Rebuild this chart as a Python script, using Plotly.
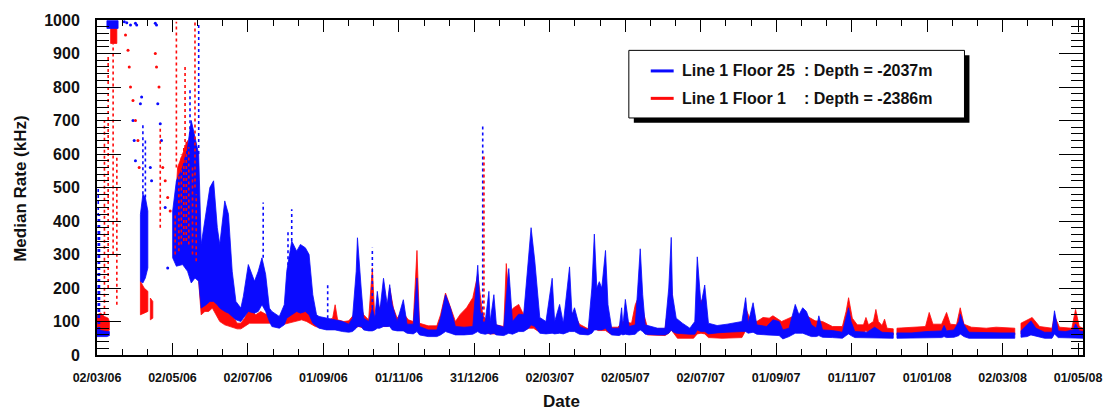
import pandas as pd
import plotly.graph_objects as go

# ---------------- data ----------------
START = "2006-03-02"          # first day of the time axis
X_RANGE_DAYS = 795            # axis end, days after START
TICK_SPAN_DAYS = 791          # 02/03/06 -> 01/05/08

x_tick_labels = ["02/03/06", "02/05/06", "02/07/06", "01/09/06", "01/11/06",
                 "31/12/06", "02/03/07", "02/05/07", "02/07/07", "01/09/07",
                 "01/11/07", "01/01/08", "02/03/08", "01/05/08"]
y_tick_values = [0, 100, 200, 300, 400, 500, 600, 700, 800, 900, 1000]

series_names = ["Line 1 Floor 25", "Line 1 Floor 1"]
series_depths = [": Depth = -2037m", ": Depth = -2386m"]

# dense band of points: (days since START, lower kHz, upper kHz); None = gap
blue_band = [
    (0, 55, 75), (4, 55, 72), (8, 55, 70), (10, 58, 70), None,
    (8, 975, 998), (17, 975, 998), None,
    (35, 220, 420), (37, 215, 480), (39, 230, 470), (41, 260, 430), None,
    (61, 290, 430), (64, 265, 520), (69, 270, 560), (73, 250, 620), (76, 215, 700),
    (79, 230, 650), (82, 220, 600), (84, 140, 330), (88, 150, 420), (91, 160, 500),
    (94, 160, 520), (97, 150, 380), (99, 140, 330), (103, 130, 460), (106, 125, 420),
    (109, 115, 250), (112, 105, 160), (116, 100, 140), (118, 110, 175), (122, 130, 270),
    (127, 125, 220), (130, 130, 250), (133, 150, 290), (136, 130, 240), (139, 100, 140),
    (141, 85, 130), (147, 80, 115), (151, 90, 150), (153, 110, 250), (157, 120, 340),
    (161, 130, 310), (164, 125, 330), (168, 130, 320), (171, 120, 300), (174, 95, 180),
    (177, 85, 120), (179, 80, 115), (185, 75, 110), (192, 75, 105), (198, 70, 100),
    (203, 68, 92), (206, 70, 110), (209, 80, 250), (210, 85, 350), (213, 85, 200),
    (215, 75, 110), (219, 72, 100), (222, 72, 140), (224, 75, 110), (226, 80, 190),
    (228, 80, 130), (231, 85, 229), (234, 85, 150), (236, 85, 210), (238, 75, 150),
    (242, 72, 100), (247, 72, 165), (250, 65, 92), (255, 63, 92), (258, 70, 230),
    (260, 60, 85), (267, 55, 75), (274, 55, 75), (277, 60, 110), (281, 70, 180),
    (285, 65, 140), (289, 60, 85), (296, 60, 83), (303, 62, 85), (307, 70, 268),
    (309, 65, 130), (313, 62, 100), (316, 65, 190), (317, 62, 100), (320, 65, 180),
    (322, 60, 90), (328, 58, 83), (332, 65, 258), (335, 62, 100), (340, 70, 122),
    (344, 70, 120), (348, 80, 300), (350, 90, 380), (353, 85, 280), (357, 65, 112),
    (362, 63, 100), (367, 65, 229), (369, 63, 100), (373, 65, 151), (376, 63, 95),
    (381, 70, 263), (383, 70, 120), (385, 70, 141), (389, 62, 85), (396, 60, 75),
    (399, 65, 200), (401, 75, 361), (403, 75, 200), (405, 75, 219), (407, 75, 200),
    (410, 80, 312), (412, 70, 150), (415, 60, 80), (421, 58, 80), (423, 62, 141),
    (424, 60, 85), (426, 62, 166), (429, 60, 85), (434, 62, 90), (436, 70, 200),
    (438, 75, 317), (440, 70, 180), (442, 62, 90), (452, 60, 80), (458, 60, 80),
    (461, 65, 200), (463, 75, 351), (464, 70, 180), (467, 65, 110), (472, 63, 95),
    (478, 62, 80), (482, 62, 100), (484, 75, 293), (487, 70, 150), (490, 70, 209),
    (493, 63, 95), (500, 66, 88), (508, 68, 92), (516, 70, 98), (520, 70, 100),
    (523, 70, 171), (525, 65, 95), (529, 68, 156), (532, 62, 90), (540, 60, 85),
    (545, 60, 105), (550, 58, 100), (553, 48, 75), (558, 55, 80), (563, 65, 151),
    (566, 65, 120), (569, 65, 141), (572, 62, 130), (576, 55, 90), (580, 55, 80),
    (582, 58, 117), (585, 53, 75), (593, 52, 73), (601, 50, 68), (604, 58, 110),
    (606, 63, 141), (608, 58, 100), (611, 52, 70), (621, 50, 68), (627, 52, 83),
    (633, 50, 68), (642, 50, 66), None,
    (645, 50, 66), (657, 50, 66), (669, 52, 70), (681, 52, 72), (683, 55, 88),
    (685, 52, 72), (691, 53, 75), (695, 58, 100), (696, 63, 122), (699, 55, 90),
    (703, 50, 68), (717, 50, 66), (729, 50, 66), (740, 50, 66), None,
    (745, 53, 72), (750, 55, 90), (753, 60, 102), (757, 55, 80), (764, 50, 68),
    (770, 50, 68), (772, 63, 132), (775, 52, 72), (781, 50, 70), (787, 52, 75),
    (789, 50, 93), (792, 50, 72), (795, 50, 70),
]

red_band = [
    (0, 60, 120), (3, 60, 125), (6, 65, 115), (9, 70, 110), (10, 75, 100), None,
    (11, 930, 995), (16, 930, 995), None,
    (35, 120, 220), (38, 125, 200), (41, 130, 190), None,
    (43, 105, 170), (45, 110, 160), None,
    (62, 300, 380), (65, 300, 560), (69, 330, 600), (73, 340, 640), (76, 300, 580),
    (79, 280, 500), (82, 220, 420), (84, 120, 180), (87, 130, 170), (90, 130, 260),
    (93, 140, 350), (96, 120, 300), (99, 100, 200), (103, 90, 150), (108, 85, 125),
    (113, 78, 95), (116, 78, 95), (119, 85, 110), (123, 95, 140), (128, 95, 120),
    (132, 95, 130), (137, 95, 120), (143, 95, 115), (149, 90, 112), (153, 95, 125),
    (155, 95, 130), (160, 100, 145), (165, 105, 170), (169, 100, 160), (172, 95, 140),
    (176, 85, 110), (179, 82, 105), (187, 80, 105), (190, 80, 110), (192, 85, 150),
    (194, 80, 105), (199, 75, 100), (203, 73, 102), (207, 80, 120), (211, 85, 160),
    (215, 80, 120), (219, 80, 105), (222, 85, 260), (224, 80, 110), (229, 85, 150),
    (234, 85, 140), (236, 90, 200), (239, 85, 140), (242, 75, 110), (246, 80, 130),
    (251, 73, 105), (255, 73, 100), (258, 80, 312), (260, 65, 95), (267, 63, 87),
    (274, 65, 87), (277, 70, 120), (281, 75, 185), (285, 70, 140), (289, 70, 100),
    (293, 73, 122), (298, 73, 141), (303, 80, 171), (307, 90, 240), (309, 85, 180),
    (311, 75, 120), (316, 63, 92), (322, 63, 90), (328, 63, 85), (330, 70, 273),
    (333, 70, 130), (336, 73, 141), (340, 73, 151), (344, 73, 120), (348, 80, 190),
    (352, 80, 180), (356, 70, 110), (362, 68, 92), (366, 68, 140), (369, 68, 92),
    (376, 68, 95), (381, 75, 132), (385, 75, 120), (389, 68, 92), (396, 63, 78),
    (399, 75, 125), (401, 80, 132), (404, 73, 112), (410, 73, 112), (414, 63, 83),
    (420, 63, 83), (424, 65, 100), (431, 65, 95), (434, 75, 150), (438, 80, 185),
    (441, 70, 120), (444, 60, 80), (458, 58, 78), (461, 65, 160), (463, 75, 219),
    (465, 65, 110), (468, 50, 68), (481, 50, 68), (484, 63, 140), (487, 65, 165),
    (490, 63, 130), (493, 52, 75), (504, 50, 72), (520, 52, 72), (523, 73, 141),
    (526, 73, 112), (532, 73, 100), (537, 73, 112), (542, 73, 110), (545, 75, 117),
    (552, 73, 100), (558, 75, 110), (565, 75, 122), (573, 73, 115), (579, 70, 102),
    (585, 68, 100), (593, 65, 85), (601, 65, 85), (604, 73, 130), (606, 80, 171),
    (609, 73, 110), (613, 65, 90), (618, 65, 90), (620, 73, 112), (622, 65, 90),
    (626, 68, 100), (628, 75, 136), (630, 68, 100), (633, 63, 88), (635, 65, 107),
    (637, 60, 80), (642, 60, 78), None,
    (645, 60, 80), (657, 62, 83), (668, 63, 85), (671, 70, 127), (674, 65, 92),
    (681, 65, 92), (685, 73, 127), (688, 65, 92), (693, 63, 90), (696, 73, 141),
    (699, 65, 92), (705, 60, 83), (717, 60, 80), (725, 60, 83), (735, 60, 80),
    (740, 60, 80), None,
    (745, 63, 95), (749, 65, 102), (754, 68, 112), (760, 60, 85), (770, 58, 80),
    (772, 65, 117), (776, 60, 83), (786, 58, 80), (789, 63, 136), (792, 60, 85),
    (795, 60, 80),
]

# sparse vertical columns of points: (days, from kHz, to kHz)
blue_spikes = [(1, 75, 500), (2, 75, 420), (37, 480, 690), (39, 470, 640),
               (75, 620, 790), (82, 600, 985), (134, 290, 455), (154, 250, 370),
               (157, 340, 435), (186, 110, 210), (222, 140, 320), (311, 100, 690)]
red_spikes = [(6, 120, 700), (9, 200, 900), (13, 300, 930), (16, 150, 600),
              (51, 380, 680), (64, 560, 995), (71, 600, 860), (79, 500, 995),
              (312, 100, 600),
              (63, 300, 420), (66, 310, 560), (68, 330, 600), (70, 340, 620),
              (72, 340, 640), (74, 330, 620), (77, 300, 560), (80, 280, 480)]

# isolated points: (days, kHz)
blue_dots = [(22, 995), (24, 992), (27, 985), (31, 990), (32, 985), (29, 700),
             (30, 640), (31, 580), (35, 750), (36, 770), (43, 560), (44, 520),
             (49, 750), (51, 690), (52, 640), (47, 990), (48, 985), (55, 440),
             (57, 260)]
red_dots = [(23, 955), (25, 910), (26, 860), (27, 800), (29, 760), (31, 700),
            (33, 640), (34, 560), (47, 900), (48, 860), (50, 800), (53, 560),
            (55, 520), (57, 470), (59, 430)]

# ---------------- helpers ----------------
T0 = pd.Timestamp(START)
BLUE = "#0a0aff"
RED = "#ff0a0a"


def to_date(d):
    return (T0 + pd.Timedelta(days=float(d))).strftime("%Y-%m-%d %H:%M:%S")


def band_polygons(rows):
    runs, cur = [], []
    for r in rows:
        if r is None:
            if cur:
                runs.append(cur)
            cur = []
            continue
        cur.append(r)
    if cur:
        runs.append(cur)
    xs, ys = [], []
    for run in runs:
        if len(run) < 2:
            continue
        d = [r[0] for r in run]
        lo = [r[1] for r in run]
        hi = [r[2] for r in run]
        xs += [to_date(v) for v in d + d[::-1]] + [to_date(d[0]), None]
        ys += hi + lo[::-1] + [hi[0], None]
    return xs, ys


def band_trace(rows, color):
    xs, ys = band_polygons(rows)
    return go.Scatter(x=xs, y=ys, mode="lines", fill="toself", fillcolor=color,
                      line=dict(color=color, width=0.8), hoverinfo="skip",
                      showlegend=False)


def spike_trace(spikes, color):
    xs, ys = [], []
    for d, a, b in spikes:
        xs += [to_date(d), to_date(d), None]
        ys += [a, b, None]
    return go.Scatter(x=xs, y=ys, mode="lines",
                      line=dict(color=color, width=1.6, dash="dot"),
                      hoverinfo="skip", showlegend=False)


def dot_trace(dots, color):
    return go.Scatter(x=[to_date(d) for d, _ in dots], y=[v for _, v in dots],
                      mode="markers", marker=dict(color=color, size=3),
                      hoverinfo="skip", showlegend=False)


fig = go.Figure()
fig.add_trace(band_trace(red_band, RED))
fig.add_trace(band_trace(blue_band, BLUE))
fig.add_trace(spike_trace(blue_spikes, BLUE))
fig.add_trace(dot_trace(blue_dots, BLUE))
fig.add_trace(spike_trace(red_spikes, RED))
fig.add_trace(dot_trace(red_dots, RED))

# ---------------- axes ----------------
FONT = "Liberation Sans, Arial, Helvetica, sans-serif"
n = len(x_tick_labels) - 1
major = [to_date(k * TICK_SPAN_DAYS / n) for k in range(n + 1)]
minor = [to_date(k * TICK_SPAN_DAYS / (3 * n)) for k in range(3 * n + 1)
         if k * TICK_SPAN_DAYS / (3 * n) <= X_RANGE_DAYS]

fig.update_xaxes(
    type="date", range=[to_date(0), to_date(X_RANGE_DAYS)],
    tickmode="array", tickvals=major, ticktext=x_tick_labels,
    ticks="inside", ticklen=12, tickwidth=1.3, tickcolor="black",
    minor=dict(tickmode="array", tickvals=minor, ticks="inside", ticklen=6,
               tickwidth=1, tickcolor="black"),
    showline=True, linewidth=2, linecolor="black", mirror="ticks",
    showgrid=False, zeroline=False,
    tickfont=dict(family=FONT, size=12.5, color="#111", weight="bold"),
    ticklabelstandoff=10,
)
fig.update_yaxes(
    range=[0, 1000], tickmode="array", tickvals=y_tick_values,
    ticks="inside", ticklen=24, tickwidth=1.3, tickcolor="black",
    minor=dict(dtick=20, ticks="inside", ticklen=12, tickwidth=1,
               tickcolor="black"),
    showline=True, linewidth=2, linecolor="black", mirror="ticks",
    showgrid=False, zeroline=False,
    tickfont=dict(family=FONT, size=16, color="#111", weight="bold"),
    ticklabelstandoff=12,
)

# ---------------- legend box and titles (pixel placement) ----------------
L, R, T, B = 97, 1087, 13, 355


def px(x):
    return (x - L) / (R - L)


def py(y):
    return (B - y) / (B - T)


shapes = [
    dict(type="rect", xref="paper", yref="paper", x0=px(636), x1=px(973),
         y0=py(118), y1=py(49), fillcolor="black", line=dict(width=0), layer="above"),
    dict(type="rect", xref="paper", yref="paper", x0=px(631), x1=px(968),
         y0=py(113), y1=py(44), fillcolor="white",
         line=dict(color="black", width=1), layer="above"),
]
annotations = []
for i, (color, name, depth) in enumerate(zip([BLUE, RED], series_names, series_depths)):
    yy = py(65 + 28 * i)
    shapes.append(dict(type="line", xref="paper", yref="paper", x0=px(653),
                       x1=px(676), y0=yy, y1=yy, line=dict(color=color, width=3),
                       layer="above"))
    annotations.append(dict(xref="paper", yref="paper", x=px(682), y=yy,
                            text=name, showarrow=False, xanchor="left",
                            yanchor="middle",
                            font=dict(family=FONT, size=16, color="#111",
                                      weight="bold")))
    annotations.append(dict(xref="paper", yref="paper", x=px(805), y=yy,
                            text=depth, showarrow=False, xanchor="left",
                            yanchor="middle",
                            font=dict(family=FONT, size=16, color="#111",
                                      weight="bold")))

annotations.append(dict(xref="paper", yref="paper", x=px(20), y=py(185),
                        text="Median Rate (kHz)", textangle=-90, showarrow=False,
                        xanchor="center", yanchor="middle",
                        font=dict(family=FONT, size=17, color="#111", weight="bold")))
annotations.append(dict(xref="paper", yref="paper", x=px(563), y=py(402),
                        text="Date", showarrow=False, xanchor="center",
                        yanchor="middle",
                        font=dict(family=FONT, size=17, color="#111", weight="bold")))

fig.update_layout(
    width=1114, height=412,
    margin=dict(l=L, r=1114 - R, t=T, b=412 - B),
    paper_bgcolor="white", plot_bgcolor="white",
    shapes=shapes, annotations=annotations, showlegend=False,
)

fig.write_html("out.html",
               config={"displayModeBar": False},
               post_script="document.body.style.margin='0';"
                           "document.body.style.overflow='hidden';")
